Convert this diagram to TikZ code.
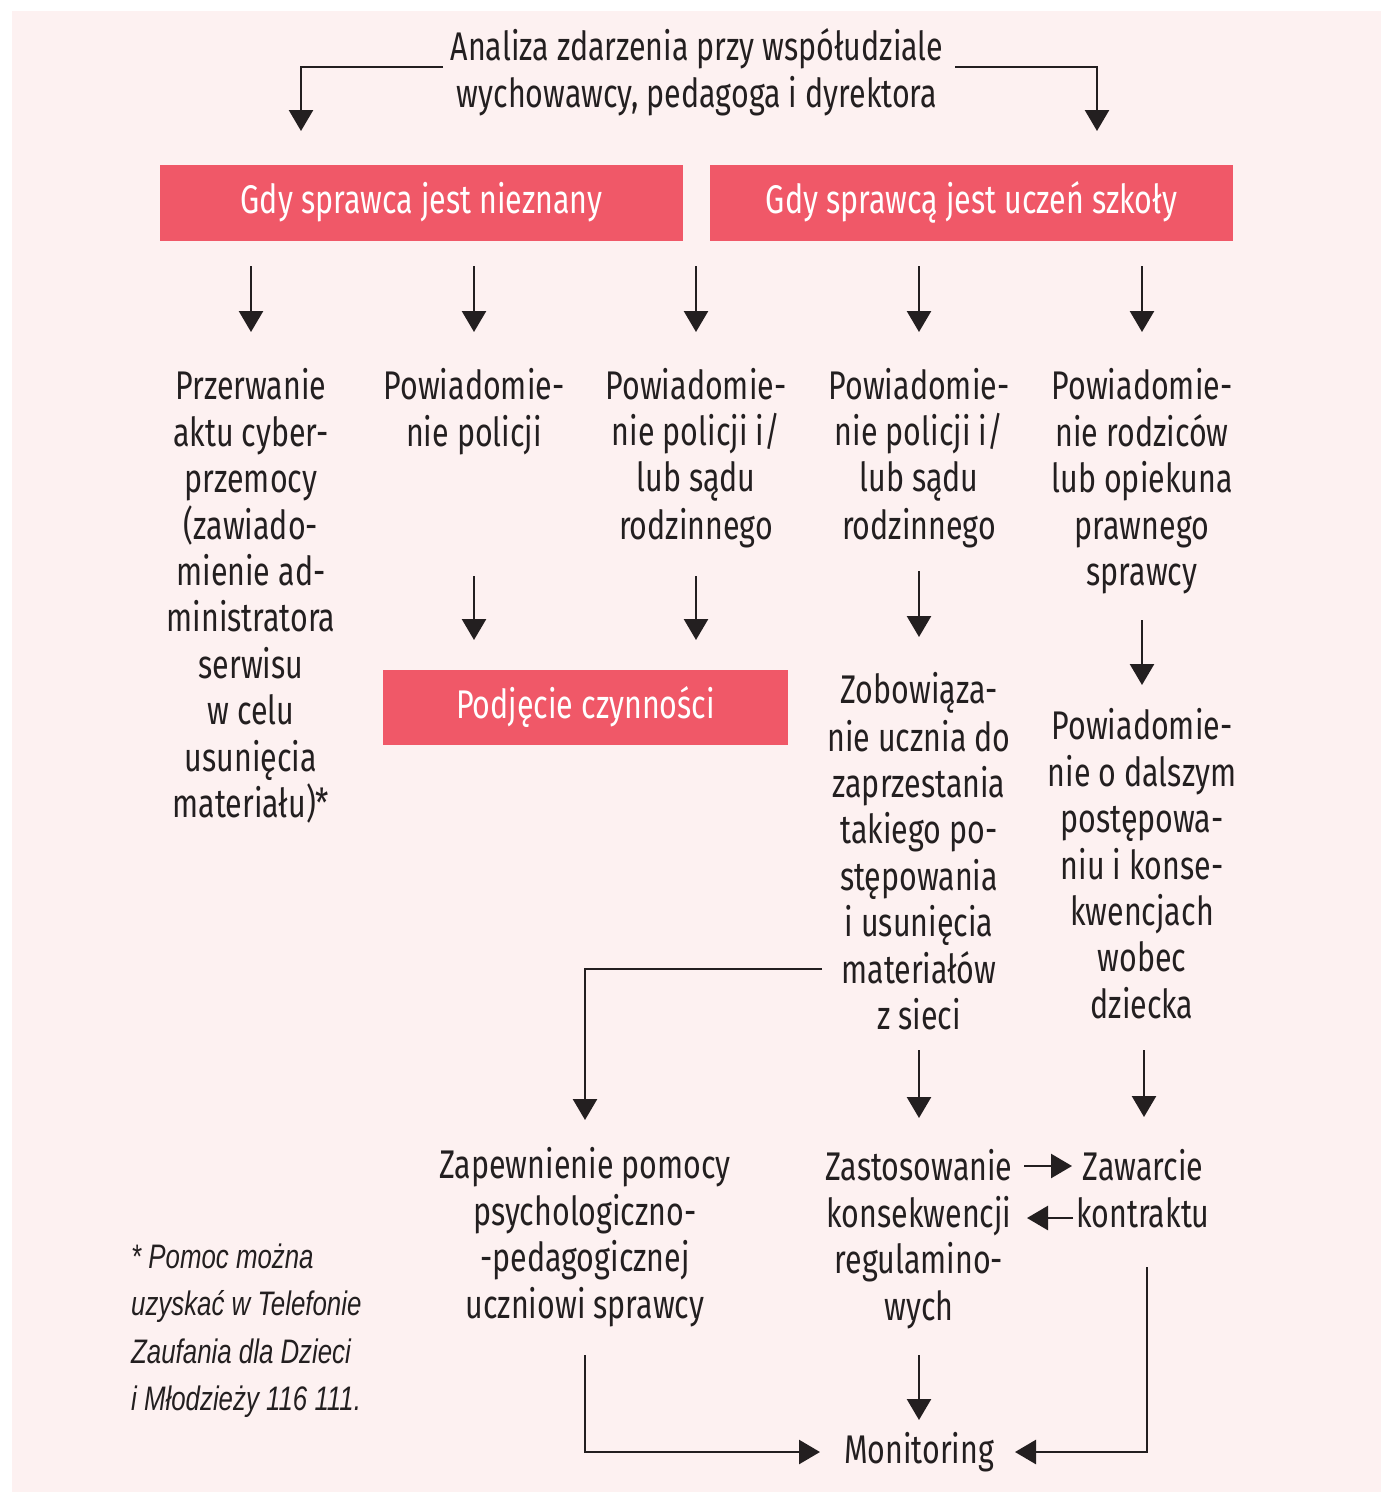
\documentclass[tikz,border=0pt]{standalone}
\usepackage{fontspec}
\setmainfont{Fira Sans}[FakeStretch=0.76]
\newfontfamily\notefont{Liberation Sans}[FakeStretch=0.76]
\usetikzlibrary{arrows.meta}
\definecolor{bgpink}{RGB}{253,241,241}
\definecolor{boxred}{RGB}{240,88,104}
\definecolor{ink}{RGB}{35,31,32}
\newcommand\st{\rule[-9.3pt]{0pt}{46.4pt}}
\newcommand\bst{\rule[-12.3pt]{0pt}{46.4pt}}
\tikzset{
  txt/.style={inner sep=0pt, align=center, text=ink, font=\fontsize{40}{46.4}\selectfont},
  redbox/.style={fill=boxred, text=white, inner sep=0pt, minimum height=76pt, font=\fontsize{40}{46.4}\selectfont},
  notetxt/.style={inner sep=0pt, align=left, text=ink, font=\notefont\itshape\fontsize{34}{46}\selectfont},
  arr/.style={draw=ink, line width=2.6pt, -{Triangle[width=24pt,length=21pt]}},
}
\begin{document}
\begin{tikzpicture}[x=1pt,y=-1pt]
\useasboundingbox (0,0) rectangle (1381,1492);
\fill[bgpink] (12,11) rectangle (1381,1492);

% nodes
\node[txt] (top) at (697,70) {\st Analiza zdarzenia przy współudziale\\\st wychowawcy, pedagoga i dyrektora};
\node[redbox, minimum width=523pt] (box1) at (421.5,203) {\bst Gdy sprawca jest nieznany};
\node[redbox, minimum width=523pt] (box2) at (971.5,203) {\bst Gdy sprawcą jest uczeń szkoły};

\node[txt] (c1) at (251,594.8) {\st Przerwanie\\\st aktu cyber-\\\st przemocy\\\st (zawiado-\\\st mienie ad-\\\st ministratora\\\st serwisu\\\st w celu\\\st usunięcia\\\st materiału)*};
\node[txt] (c2) at (474,409.2) {\st Powiadomie-\\\st nie policji};
\node[txt] (c3) at (696,455.6) {\st Powiadomie-\\\st nie policji i/\\\st lub sądu\\\st rodzinnego};
\node[txt] (c4) at (919,455.6) {\st Powiadomie-\\\st nie policji i/\\\st lub sądu\\\st rodzinnego};
\node[txt] (c5) at (1142,478.8) {\st Powiadomie-\\\st nie rodziców\\\st lub opiekuna\\\st prawnego\\\st sprawcy};

\node[redbox, minimum width=405pt, minimum height=75pt] (podj) at (585.5,707.5) {\bst Podjęcie czynności};
\node[txt] (zob) at (919,852.4) {\st Zobowiąza-\\\st nie ucznia do\\\st zaprzestania\\\st takiego po-\\\st stępowania\\\st i usunięcia\\\st materiałów\\\st z sieci};
\node[txt] (pow) at (1142,865.2) {\st Powiadomie-\\\st nie o dalszym\\\st postępowa-\\\st niu i konse-\\\st kwencjach\\\st wobec\\\st dziecka};

\node[txt] (zap) at (585,1234.6) {\st Zapewnienie pomocy\\\st psychologiczno-\\\st -pedagogicznej\\\st uczniowi sprawcy};
\node[txt] (zas) at (919,1236.6) {\st Zastosowanie\\\st konsekwencji\\\st regulamino-\\\st wych};
\node[txt] (zaw) at (1143,1190.2) {\st Zawarcie\\\st kontraktu};
\node[txt] (mon) at (919,1450) {\st Monitoring};

\node[notetxt, anchor=west] (note) at (131,1325.6) {\st * Pomoc można\\\st uzyskać w Telefonie\\\st Zaufania dla Dzieci\\\st i Młodzieży 116 111.};

% connector coordinates
\coordinate (tlS) at (443,67);  \coordinate (tlE) at (301,131);
\coordinate (trS) at (955,67);  \coordinate (trE) at (1097,131);
\foreach \n/\x in {1/251,2/474,3/696,4/919,5/1142}{
  \coordinate (aS\n) at (\x,266); \coordinate (aE\n) at (\x,332);
}
\coordinate (bS2) at (474,576); \coordinate (bE2) at (474,640);
\coordinate (bS3) at (696,576); \coordinate (bE3) at (696,640);
\coordinate (bS4) at (919,571); \coordinate (bE4) at (919,637);
\coordinate (bS5) at (1142,620); \coordinate (bE5) at (1142,685);
\coordinate (zS) at (822,969); \coordinate (zE) at (585,1120);
\coordinate (dS4) at (919,1050); \coordinate (dE4) at (919,1118);
\coordinate (dS5) at (1144,1050); \coordinate (dE5) at (1144,1117);
\coordinate (rS) at (1024,1166); \coordinate (rE) at (1072,1166);
\coordinate (lS) at (1073,1218); \coordinate (lE) at (1027,1218);
\coordinate (kS) at (1147,1267); \coordinate (kE) at (1015,1452);
\coordinate (mS) at (919,1355); \coordinate (mE) at (919,1420);
\coordinate (pS) at (585,1355); \coordinate (pE) at (820,1452);

% connectors
\draw[arr] (tlS) -| (tlE);
\draw[arr] (trS) -| (trE);
\foreach \n in {1,...,5}{ \draw[arr] (aS\n) -- (aE\n); }
\foreach \n in {2,...,5}{ \draw[arr] (bS\n) -- (bE\n); }
\draw[arr] (zS) -| (zE);
\draw[arr] (dS4) -- (dE4);
\draw[arr] (dS5) -- (dE5);
\draw[arr] (rS) -- (rE);
\draw[arr] (lS) -- (lE);
\draw[arr] (kS) |- (kE);
\draw[arr] (mS) -- (mE);
\draw[arr] (pS) |- (pE);
\end{tikzpicture}
\end{document}
